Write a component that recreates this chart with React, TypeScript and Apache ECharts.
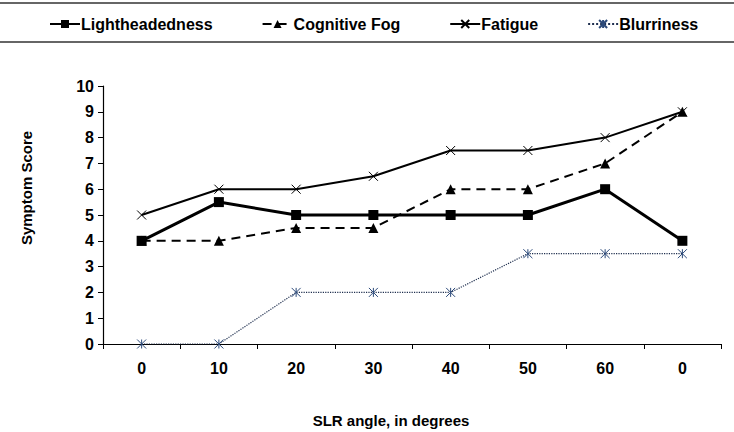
import React, { useEffect, useRef } from "react";
import * as echarts from "echarts";

const categories = ["0", "10", "20", "30", "40", "50", "60", "0"];
const lightheadedness = [4, 5.5, 5, 5, 5, 5, 6, 4];
const cognitiveFog = [4, 4, 4.5, 4.5, 6, 6, 7, 9];
const fatigue = [5, 6, 6, 6.5, 7.5, 7.5, 8, 9];
const blurriness = [0, 0, 2, 2, 2, 3.5, 3.5, 3.5];

const FONT2 = "'Liberation Sans', Arial, sans-serif";

export default function App() {
  const ref = useRef<HTMLDivElement>(null);
  useEffect(() => {
    const chart = echarts.init(ref.current!, null, { renderer: "svg" });
    chart.setOption({
      animation: false,
      backgroundColor: "#fff",
      legend: {
        top: 16,
        left: 49,
        padding: 0,
        itemWidth: 30,
        itemHeight: 10,
        itemGap: 49,
        textStyle: { fontFamily: FONT2, fontWeight: "bold", fontSize: 16, color: "#000", padding: [0, 0, 0, -4] },
        data: ["Lightheadedness", "Cognitive Fog", "Fatigue", "Blurriness"],
      },
      grid: { left: 103, right: 13, top: 86, bottom: 88 },
      xAxis: {
        type: "category",
        data: categories,
        boundaryGap: true,
        axisLine: { lineStyle: { color: "#000", width: 1.2 } },
        axisTick: { show: true, length: 5, lineStyle: { color: "#000" } },
        axisLabel: { fontFamily: FONT2, fontWeight: "bold", fontSize: 16, color: "#000", margin: 16 },
      },
      yAxis: {
        type: "value",
        min: 0,
        max: 10,
        interval: 1,
        splitLine: { show: false },
        axisLine: { show: true, lineStyle: { color: "#000", width: 1.2 } },
        axisTick: { show: true, length: 5, lineStyle: { color: "#000" } },
        axisLabel: { fontFamily: FONT2, fontWeight: "bold", fontSize: 16, color: "#000", margin: 9 },
      },
      graphic: [
        { type: "line", shape: { x1: 0, y1: 3, x2: 734, y2: 3 }, style: { stroke: "#333", lineWidth: 1.5 } },
        { type: "line", shape: { x1: 0, y1: 42, x2: 734, y2: 42 }, style: { stroke: "#333", lineWidth: 1.5 } },
        {
          type: "text",
          x: 26,
          y: 188,
          rotation: Math.PI / 2,
          style: { text: "Symptom Score", fontFamily: FONT2, fontWeight: "bold", fontSize: 15, fill: "#000", align: "center", verticalAlign: "middle" },
        },
        {
          type: "text",
          x: 391,
          y: 420,
          style: { text: "SLR angle, in degrees", fontFamily: FONT2, fontWeight: "bold", fontSize: 15, fill: "#000", align: "center", verticalAlign: "middle" },
        },
      ],
      series: [
        {
          name: "Lightheadedness",
          type: "line",
          data: lightheadedness,
          symbol: "rect",
          symbolSize: 10,
          itemStyle: { color: "#000" },
          lineStyle: { color: "#000", width: 3 },
          z: 4,
        },
        {
          name: "Cognitive Fog",
          type: "line",
          data: cognitiveFog,
          symbol: "triangle",
          symbolSize: 10,
          itemStyle: { color: "#000" },
          lineStyle: { color: "#000", width: 2, type: [9, 6] },
          z: 3,
        },
        {
          name: "Fatigue",
          type: "line",
          data: fatigue,
          symbol: "path://M0,0L10,10M10,0L0,10",
          symbolSize: 9,
          itemStyle: { color: "#000", borderColor: "#000", borderWidth: 1 },
          lineStyle: { color: "#000", width: 2 },
          z: 2,
        },
        {
          name: "Blurriness",
          type: "line",
          data: blurriness,
          symbol: "path://M0,0L10,10M10,0L0,10M5,0L5,10",
          symbolSize: 9,
          itemStyle: { color: "#2c4a7a", borderColor: "#2c4a7a", borderWidth: 1 },
          lineStyle: { color: "#1f2f4f", width: 1.2, type: "dotted" },
          z: 1,
        },
      ],
    });
    return () => chart.dispose();
  }, []);
  return <div ref={ref} style={{ width: 734, height: 432, position: "absolute", left: 0, top: 0 }} />;
}
